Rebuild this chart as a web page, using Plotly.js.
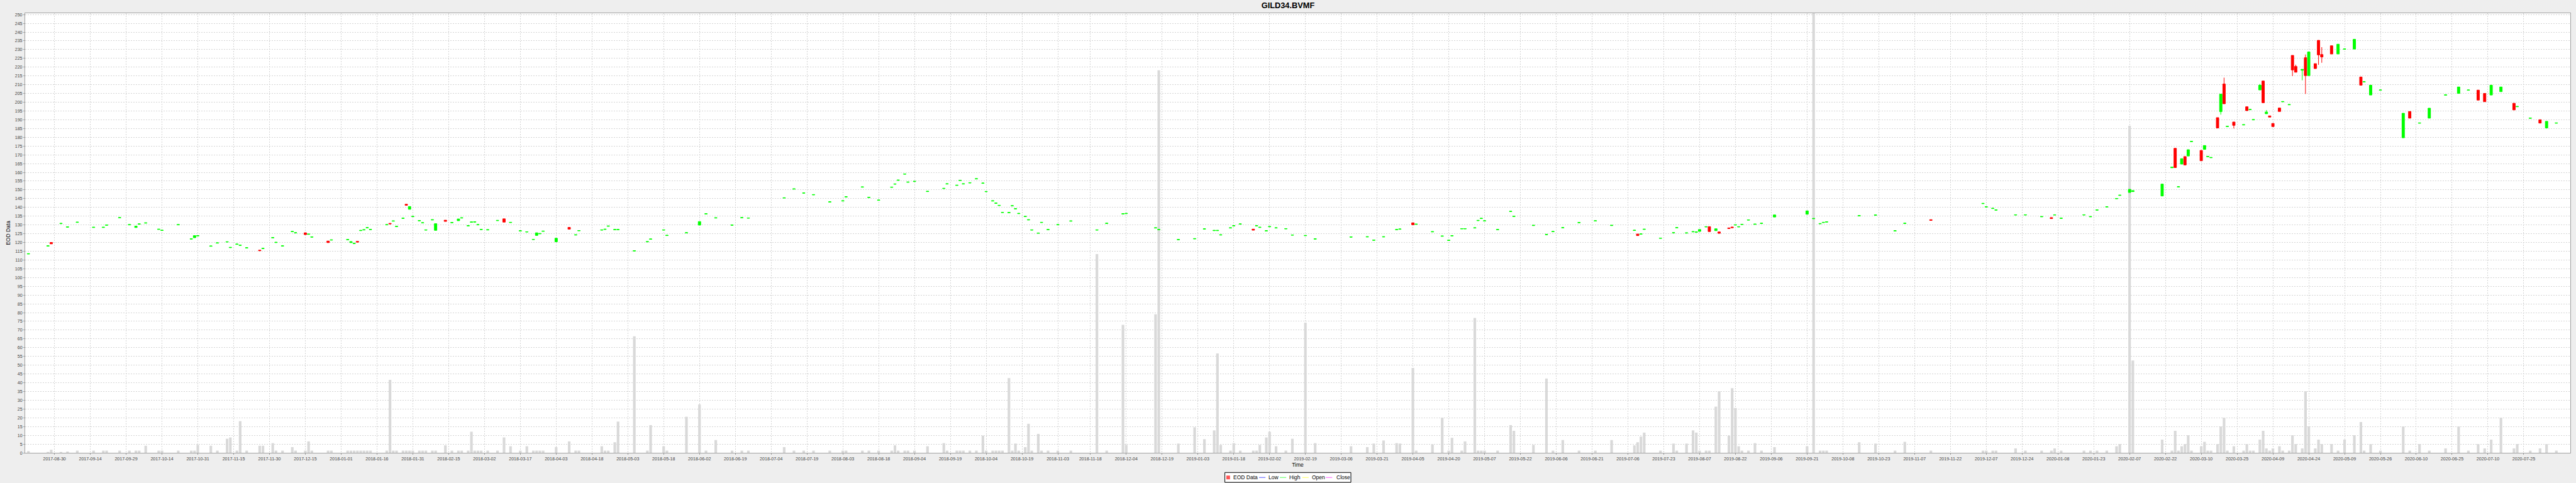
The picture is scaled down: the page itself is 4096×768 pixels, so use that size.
<!DOCTYPE html>
<html><head><meta charset="utf-8">
<script src="https://cdn.plot.ly/plotly-3.0.1.min.js"></script>
<style>html,body{margin:0;padding:0;background:#eeeeee;}#chart{width:4096px;height:768px;}</style>
</head><body><div id="chart"></div>
<script>
// Trading day = number of weekdays after 2017-08-30 (the axis skips weekends)
const tradingDay = [-8,-2,-1,2,4,7,12,15,16,20,23,25,26,28,32,33,38,42,43,44,48,50,53,54,56,57,59,63,64,67,68,70,73,74,77,78,79,
84,85,90,91,92,93,94,95,96,97,102,103,104,105,107,108,109,110,112,113,114,116,117,120,122,124,125,127,128,129,130,131,133,136,138,140,143,145,147,148,149,150,154,158,160,161,168,169,170,172,173,178,
182,183,187,188,194,198,200,203,208,211,213,224,227,230,233,238,242,243,248,250,253,257,258,259,261,262,264,268,273,274,277,278,279,
281,283,285,286,288,289,290,291,293,294,295,296,298,299,300,302,303,305,308,312,320,323,328,329,338,339,345,350,353,356,357,358,361,362,364,368,369,370,372,373,375,378,
380,384,387,398,403,405,408,412,413,417,418,423,426,428,429,432,433,436,437,438,439,443,447,448,454,458,460,463,468,473,
478,485,486,487,488,493,497,498,501,503,504,505,507,508,510,511,514,515,516,517,518,520,522,524,528,538,540,542,543,544,554,559,565,568,576,
592,593,595,596,602,605,610,613,614,616,623,625,627,630,633,634,
637,638,647,650,651,652,653,654,655,656,659,660,661,662,664,665,666,667,669,672,673,674,675,677,678,679,680,681,683,684,686,687,688,690,691,692,694,695,696,
699,701,703,706,708,709,711,714,721,723,726,729,734,738,741,744,746,748,751,755,756,760,763,765,768];

const openPrice = [113.4,117.9,120.0,130.7,128.7,131.4,128.5,128.5,129.8,134.0,130.0,128.5,130.4,131.0,127.4,126.8,130.0,121.9,122.7,123.7,117.8,119.6,120.2,117.0,118.9,118.3,116.8,115.6,116.5,122.6,119.9,117.9,126.1,125.4,125.5,124.6,123.0,
120.8,121.3,121.5,119.9,119.3,120.6,126.7,127.1,128.3,127.3,130.0,130.9,132.1,129.0,133.7,141.8,138.9,134.7,132.3,131.1,127.0,132.8,126.9,132.7,131.2,132.4,133.9,129.4,131.5,131.6,130.0,127.3,127.1,132.4,133.5,131.3,126.5,125.9,121.6,124.0,124.9,126.3,120.4,128.6,124.2,126.6,127.0,127.4,129.2,127.2,127.2,115.1,
120.3,121.8,127.0,123.9,125.4,129.9,136.2,133.9,129.8,134.0,133.8,145.3,150.4,148.1,147.1,143.0,143.6,145.9,151.5,145.6,144.0,151.4,153.2,155.4,158.9,154.3,154.7,149.0,150.7,153.3,152.5,155.3,153.3,
153.9,156.2,153.7,148.9,143.6,142.3,141.0,137.0,136.9,140.8,139.1,136.4,134.7,132.8,127.0,125.2,131.3,127.2,130.0,132.1,127.0,130.8,136.2,136.4,128.2,127.2,121.5,122.0,127.6,126.7,126.7,124.2,128.2,129.4,130.4,127.6,129.4,128.5,126.5,128.9,128.2,127.7,
124.1,123.8,121.9,123.0,123.1,121.2,123.1,127.2,127.5,131.2,130.3,126.0,123.5,121.1,123.7,127.7,127.7,128.2,132.4,133.6,132.2,127.2,137.6,134.8,129.6,124.4,126.1,128.3,131.2,132.2,
129.6,126.8,124.8,124.7,127.4,122.3,125.4,128.3,125.3,126.0,125.8,126.3,128.8,129.0,126.7,126.0,128.3,128.8,129.9,128.8,130.2,132.7,130.3,130.8,134.5,136.1,133.5,130.6,131.3,131.6,135.1,135.5,126.5,130.8,133.0,
142.1,140.2,139.3,138.4,135.6,135.6,134.6,134.2,135.6,133.7,135.6,134.6,138.4,140.2,144.9,146.8,
148.5,149.0,146.5,162.6,173.7,151.6,164.7,169.0,169.3,177.5,172.5,173.1,168.9,168.3,191.2,194.6,210.4,186.1,188.7,187.0,197.4,195.7,189.9,207.0,212.1,193.4,192.2,187.9,196.7,200.2,198.5,226.7,220.4,218.2,225.4,215.2,222.0,235.3,227.2,
232.2,227.5,230.2,230.3,214.4,211.5,204.1,206.8,179.7,194.7,188.0,190.9,204.0,205.0,206.8,206.9,205.0,204.1,206.0,199.4,197.4,190.8,190.0,185.3,188.0];

const closePrice = [113.6,118.1,119.2,130.9,128.9,131.6,128.7,128.7,130.0,134.2,130.2,129.3,130.6,131.2,127.6,127.0,130.2,122.1,123.9,123.9,118.0,119.8,120.4,117.2,119.1,118.5,117.0,115.3,116.7,122.8,120.1,118.1,126.3,125.6,124.5,124.8,123.2,
119.9,121.5,121.7,120.5,119.5,120.2,126.9,127.3,128.5,127.5,130.2,130.6,132.3,129.2,133.9,141.2,140.5,134.9,132.5,131.3,127.2,133.0,130.7,132.0,131.4,133.4,134.1,129.6,131.7,131.8,130.2,127.5,127.3,132.6,131.6,131.5,126.7,126.1,121.8,125.5,125.1,126.5,122.4,127.6,124.4,126.8,127.2,127.6,129.4,127.4,127.4,115.3,
120.5,122.0,127.2,124.1,125.6,131.9,136.4,134.1,130.0,134.2,134.0,145.5,150.6,148.3,147.3,143.2,143.8,146.1,151.7,145.8,144.2,151.6,153.4,155.6,159.1,154.5,154.9,149.2,150.9,153.5,152.7,155.5,153.5,
154.1,156.4,153.9,149.1,143.8,142.5,141.2,137.2,137.1,141.0,139.3,136.6,134.9,133.0,127.2,125.4,131.5,127.4,130.2,132.3,127.2,131.0,136.4,136.6,128.4,127.4,121.7,122.2,127.8,126.9,126.9,124.4,128.4,129.6,130.6,127.0,129.6,128.7,126.7,129.1,128.4,127.9,
124.3,124.0,122.1,123.2,123.3,121.4,123.3,127.4,127.7,130.1,130.5,126.2,123.7,121.3,123.9,127.9,127.9,128.4,132.6,133.8,132.4,127.4,137.8,135.0,129.8,124.6,126.3,128.5,131.4,132.4,
129.8,127.0,123.9,124.9,127.6,122.5,125.6,128.5,125.5,126.2,126.0,127.4,129.0,126.2,127.8,125.2,127.9,128.4,130.1,129.0,130.4,132.9,130.5,131.0,135.7,138.0,133.7,130.8,131.5,131.8,135.3,135.7,126.7,131.0,132.6,
142.3,140.4,139.5,138.6,135.8,135.8,134.8,133.6,135.8,133.9,135.8,134.8,138.6,140.4,145.1,147.0,
150.3,149.6,153.3,163.0,162.7,151.8,167.8,164.2,172.9,177.7,166.6,175.3,169.1,168.5,185.3,204.6,199.1,186.3,186.8,187.2,195.2,195.9,190.1,209.7,199.7,194.4,191.5,186.1,194.7,200.4,198.7,218.4,217.1,218.8,215.2,228.7,219.2,227.0,225.8,
227.5,233.1,230.4,235.9,209.7,211.7,209.7,207.0,193.7,190.9,188.2,196.6,204.2,208.7,207.0,201.2,200.3,209.7,208.7,195.6,197.6,191.0,188.1,189.1,188.2];

const highPrice = [113.6,118.1,120.0,130.9,128.9,131.6,128.7,128.7,130.0,134.2,130.2,129.3,130.6,131.2,127.6,127.0,130.2,122.1,123.9,123.9,118.0,119.8,120.4,117.2,119.1,118.5,117.0,115.6,116.7,122.8,120.1,118.1,126.3,125.6,125.5,124.8,123.2,
120.8,121.5,121.7,120.5,119.5,120.6,126.9,127.3,128.5,127.5,130.2,130.9,132.3,129.2,133.9,141.8,140.5,134.9,132.5,131.3,127.2,133.0,130.7,132.7,131.4,133.4,134.1,129.6,131.7,131.8,130.2,127.5,127.3,132.6,133.5,131.5,126.7,126.1,121.8,125.5,125.1,126.5,122.4,128.6,124.4,126.8,127.2,127.6,129.4,127.4,127.4,115.3,
120.5,122.0,127.2,124.1,125.6,131.9,136.4,134.1,130.0,134.2,134.0,145.5,150.6,148.3,147.3,143.2,143.8,146.1,151.7,145.8,144.2,151.6,153.4,155.6,159.1,154.5,154.9,149.2,150.9,153.5,152.7,155.5,153.5,
154.1,156.4,153.9,149.1,143.8,142.5,141.2,137.2,137.1,141.0,139.3,136.6,134.9,133.0,127.2,125.4,131.5,127.4,130.2,132.3,127.2,131.0,136.4,136.6,128.4,127.4,121.7,122.2,127.8,126.9,126.9,124.4,128.4,129.6,130.6,127.6,129.6,128.7,126.7,129.1,128.4,127.9,
124.3,124.0,122.1,123.2,123.3,121.4,123.3,127.4,127.7,131.2,130.5,126.2,123.7,121.3,123.9,127.9,127.9,128.4,132.6,133.8,132.4,127.4,137.8,135.0,129.8,124.6,126.3,128.5,131.4,132.4,
129.8,127.0,124.8,124.9,127.6,122.5,125.6,128.5,125.5,126.2,126.0,127.4,129.0,129.0,127.8,126.0,128.3,128.8,130.1,129.0,130.4,132.9,130.5,131.0,135.7,138.0,133.7,130.8,131.5,131.8,135.3,135.7,126.7,131.0,133.0,
142.3,140.4,139.5,138.6,135.8,135.8,134.8,134.2,135.8,133.9,135.8,134.8,138.6,140.4,145.1,147.0,
150.3,149.6,153.3,163.0,173.7,151.8,167.8,169.0,172.9,177.7,172.5,175.3,169.1,168.5,191.2,204.6,214.0,186.3,188.7,187.2,197.4,195.9,190.1,210.4,212.1,195.5,192.2,187.9,196.7,200.4,198.7,226.7,221.4,218.8,227.2,228.7,222.0,235.3,231.4,
232.2,233.1,230.4,235.9,214.4,211.7,209.7,207.0,193.7,194.7,188.2,196.6,204.2,208.7,207.0,206.9,205.0,209.7,208.7,199.4,197.6,191.0,190.0,189.1,188.2];

const lowPrice = [113.4,117.9,119.2,130.7,128.7,131.4,128.5,128.5,129.8,134.0,130.0,128.5,130.4,131.0,127.4,126.8,130.0,121.9,122.7,123.7,117.8,119.6,120.2,117.0,118.9,118.3,116.8,115.3,116.5,122.6,119.9,117.9,126.1,125.4,124.5,124.6,123.0,
119.9,121.3,121.5,119.9,119.3,120.2,126.7,127.1,128.3,127.3,130.0,130.6,132.1,129.0,133.7,141.2,138.9,134.7,132.3,131.1,127.0,132.8,126.9,132.0,131.2,132.4,133.9,129.4,131.5,131.6,130.0,127.3,127.1,132.4,131.6,131.3,126.5,125.9,121.6,124.0,124.9,126.3,120.4,127.6,124.2,126.6,127.0,127.4,129.2,127.2,127.2,115.1,
120.3,121.8,127.0,123.9,125.4,129.9,136.2,133.9,129.8,134.0,133.8,145.3,150.4,148.1,147.1,143.0,143.6,145.9,151.5,145.6,144.0,151.4,153.2,155.4,158.9,154.3,154.7,149.0,150.7,153.3,152.5,155.3,153.3,
153.9,156.2,153.7,148.9,143.6,142.3,141.0,137.0,136.9,140.8,139.1,136.4,134.7,132.8,127.0,125.2,131.3,127.2,130.0,132.1,127.0,130.8,136.2,136.4,128.2,127.2,121.5,122.0,127.6,126.7,126.7,124.2,128.2,129.4,130.4,127.0,129.4,128.5,126.5,128.9,128.2,127.7,
124.1,123.8,121.9,123.0,123.1,121.2,123.1,127.2,127.5,130.1,130.3,126.0,123.5,121.1,123.7,127.7,127.7,128.2,132.4,133.6,132.2,127.2,137.6,134.8,129.6,124.4,126.1,128.3,131.2,132.2,
129.6,126.8,123.9,124.7,127.4,122.3,125.4,128.3,125.3,126.0,125.8,126.3,128.8,126.2,126.7,125.2,127.9,128.4,129.9,128.8,130.2,132.7,130.3,130.8,134.5,136.1,133.5,130.6,131.3,131.6,135.1,135.5,126.5,130.8,132.6,
142.1,140.2,139.3,138.4,135.6,135.6,134.6,133.6,135.6,133.7,135.6,134.6,138.4,140.2,144.9,146.8,
148.5,149.0,146.5,162.6,162.7,151.6,164.7,164.2,169.3,177.5,166.6,173.1,168.9,168.3,185.3,192.9,199.1,186.1,185.0,187.0,195.2,195.7,189.9,207.0,199.7,193.4,191.5,186.1,194.7,200.2,198.5,214.9,217.1,212.5,204.7,215.2,219.2,221.3,222.5,
227.5,227.5,230.2,230.3,209.7,211.5,204.1,206.8,179.7,190.9,188.0,190.9,204.0,205.0,206.8,201.2,200.3,204.1,206.0,195.6,197.4,190.8,188.1,185.3,188.0];

// Volume, as a percentage of the largest day's volume
const volumePct = [0.4,0.2,0.7,0.2,0.3,0.5,0.5,0.5,0.5,0.5,0.5,0.5,0.5,1.6,0.5,0.5,0.5,0.5,0.5,1.8,1.6,0.5,3.2,3.5,0.5,7.2,0.5,1.6,1.6,2.2,0.5,0.5,1.3,0.5,0.5,2.6,0.5,
0.5,0.5,0.5,0.5,0.5,0.5,0.5,0.5,0.5,0.5,0.5,16.6,0.5,0.5,0.5,0.5,0.5,0.5,0.5,0.5,0.5,0.5,0.5,1.7,0.5,0.5,0.5,0.5,4.8,0.5,0.5,0.5,0.5,0.5,3.5,1.5,0.5,1.5,0.5,0.5,0.5,0.5,1.3,2.6,0.5,0.5,1.5,0.5,0.5,2.4,7.1,26.5,
0.5,6.3,1.5,0.5,8.2,11.0,0.5,2.9,0.5,0.5,0.5,1.3,0.5,0.5,0.5,0.5,0.5,0.5,0.5,0.5,0.5,0.5,1.7,0.5,0.5,0.5,0.5,1.5,2.2,0.5,0.5,0.5,0.5,
0.5,0.5,3.9,0.5,0.5,0.5,0.5,0.5,17.0,0.5,2.1,0.5,1.3,6.6,0.5,4.3,0.5,0.5,0.5,0.5,45.2,0.5,29.1,1.8,31.5,87.0,2.1,5.8,3.1,5.1,22.6,1.8,0.5,2.2,0.5,0.5,0.5,1.8,3.5,4.8,1.5,0.5,
3.2,29.6,2.2,1.5,1.3,2.1,2.8,2.2,2.1,19.3,0.5,1.9,8.0,0.5,3.4,0.5,2.6,30.7,0.5,0.5,0.5,0.5,6.3,5.0,1.8,16.9,0.5,2.9,0.5,0.5,
2.9,1.7,2.4,3.7,4.6,0.5,2.1,0.5,2.1,5.1,4.6,0.5,0.5,0.5,10.5,14.0,3.9,14.7,10.2,1.5,0.5,0.5,2.2,0.5,1.3,1.5,100,0.5,0.5,0.5,2.4,2.1,0.5,2.5,0.5,
0.5,0.5,0.5,0.5,1.0,0.5,0.5,0.5,1.0,0.5,0.5,0.5,0.5,0.5,1.5,2.0,
74.4,21.0,3.0,0.5,5.0,0.5,1.5,2.0,4.0,0.5,1.5,2.5,0.5,0.5,2.0,6.0,8.0,0.5,1.5,0.5,2.0,0.5,0.5,3.0,5.0,1.0,0.5,1.0,1.5,0.5,0.5,4.0,2.0,1.0,14.0,6.0,1.0,3.0,2.0,
2.0,0.5,3.0,4.0,7.0,0.5,2.0,0.5,6.0,0.5,2.0,0.5,1.0,6.0,0.5,2.0,1.0,3.0,8.0,1.0,2.0,0.5,1.0,2.0,0.5];

// X-axis tick labels
const tickLabels = ['2017-08-30','2017-09-14','2017-09-29','2017-10-14','2017-10-31','2017-11-15','2017-11-30','2017-12-15','2018-01-01','2018-01-16','2018-01-31','2018-02-15','2018-03-02','2018-03-17','2018-04-03','2018-04-18','2018-05-03','2018-05-18','2018-06-02','2018-06-19','2018-07-04','2018-07-19','2018-08-03','2018-08-18','2018-09-04','2018-09-19','2018-10-04','2018-10-19','2018-11-03','2018-11-18','2018-12-04','2018-12-19','2019-01-03','2019-01-18','2019-02-02','2019-02-19','2019-03-06','2019-03-21','2019-04-05','2019-04-20','2019-05-07','2019-05-22','2019-06-06','2019-06-21','2019-07-06','2019-07-23','2019-08-07','2019-08-22','2019-09-06','2019-09-21','2019-10-08','2019-10-23','2019-11-07','2019-11-22','2019-12-07','2019-12-24','2020-01-08','2020-01-23','2020-02-07','2020-02-22','2020-03-10','2020-03-25','2020-04-09','2020-04-24','2020-05-09','2020-05-26','2020-06-10','2020-06-25','2020-07-10','2020-07-25'];

const legendNames = ['EOD Data','Low','High','Open','Close'];
const legendColors = ['#ff5555','#5555ff','#55ff55','#ffff55','#ff55ff'];

// weekday count after 2017-08-30; weekend dates sit at the following Monday
function weekdayIndex(s){
  const p=s.split('-').map(Number), step=864e5, base=Date.UTC(2017,7,30);
  let t=Date.UTC(p[0],p[1]-1,p[2]);
  while([0,6].includes(new Date(t).getUTCDay())) t+=step;
  let n=0;
  for(let u=base+step;u<=t;u+=step){const d=new Date(u).getUTCDay(); if(d!==0&&d!==6) n++;}
  return n;
}

const M={l:40,r:9,t:21,b:48}, W=4096, H=768;
const PW=W-M.l-M.r, PH=H-M.t-M.b;
const px=x=>(x-M.l)/PW, py=y=>(H-M.b-y)/PH;

const FONT='Liberation Sans, Arial, sans-serif';
const shapes=[], annotations=[];
shapes.push({type:'rect',xref:'paper',yref:'paper',x0:px(1947.6),x1:px(2148),y0:py(767),y1:py(751.3),line:{color:'#000',width:1},fillcolor:'#fff',layer:'above'});
const legX=[1950,2002,2035,2070.7,2108.1], legTextX=[1958.8,2015,2048.2,2084.4,2122.6], legY=759.2;
legendNames.forEach((n,i)=>{
  if(i===0) shapes.push({type:'rect',xref:'paper',yref:'paper',x0:px(legX[0]),x1:px(legX[0]+5.8),y0:py(legY+3),y1:py(legY-3),line:{width:0},fillcolor:legendColors[0],layer:'above'});
  else shapes.push({type:'line',xref:'paper',yref:'paper',x0:px(legX[i]),x1:px(legX[i]+10.2),y0:py(legY),y1:py(legY),line:{color:legendColors[i],width:1},layer:'above'});
  annotations.push({xref:'paper',yref:'paper',x:px(legTextX[i]),y:py(legY),xanchor:'left',yanchor:'middle',text:n,showarrow:false,font:{family:FONT,size:8.5,color:'#000'}});
});

const traces=[
 {type:'bar',x:tradingDay,y:volumePct,width:0.8,marker:{color:'#d9d9d9',line:{width:0}},xaxis:'x',yaxis:'y',hoverinfo:'skip',showlegend:false},
 {type:'candlestick',x:tradingDay,open:openPrice,high:highPrice,low:lowPrice,close:closePrice,xaxis:'x',yaxis:'y2',
  increasing:{line:{color:'#00ff00',width:1},fillcolor:'#00ff00'},decreasing:{line:{color:'#ff0000',width:1},fillcolor:'#ff0000'},
  whiskerwidth:0,hoverinfo:'skip',showlegend:false}
];

const layout={
 width:W,height:H,margin:M,paper_bgcolor:'#eeeeee',plot_bgcolor:'#ffffff',showlegend:false,
 font:{family:FONT,color:'#333'},
 boxgap:0.25,boxgroupgap:0,
 title:{text:'GILD34.BVMF',x:0.5,xref:'container',xanchor:'center',y:1-9/H,yref:'container',yanchor:'middle',font:{family:FONT,size:12.8,color:'#000',weight:'bold'}},
 xaxis:{range:[-9.0,772.3],tickmode:'array',tickvals:tickLabels.map(weekdayIndex),ticktext:tickLabels,
   tickfont:{family:FONT,size:7.1,color:'#444'},ticks:'outside',ticklen:2,tickcolor:'#999',
   showgrid:true,gridcolor:'#d4d4d4',griddash:'2px,2px',gridwidth:1,zeroline:false,
   showline:true,linecolor:'#a0a0a0',linewidth:1,mirror:true,rangeslider:{visible:false},
   title:{text:'Time',font:{family:FONT,size:8.5,color:'#000'},standoff:3},automargin:false,fixedrange:true},
 yaxis:{range:[0,100],visible:false,showgrid:false,zeroline:false,fixedrange:true},
 yaxis2:{overlaying:'y',side:'left',anchor:'x',range:[0,250.77],tickmode:'linear',tick0:0,dtick:5,
   tickfont:{family:FONT,size:7.1,color:'#444'},ticks:'outside',ticklen:2,tickcolor:'#999',
   showgrid:true,gridcolor:'#d4d4d4',griddash:'2px,2px',gridwidth:1,zeroline:false,
   showline:true,linecolor:'#a0a0a0',linewidth:1,mirror:true,
   title:{text:'EOD Data',font:{family:FONT,size:8.5,color:'#000'},standoff:5},automargin:false,fixedrange:true},
 shapes:shapes,annotations:annotations
};
Plotly.newPlot('chart',traces,layout,{staticPlot:true,displayModeBar:false});
</script></body></html>
